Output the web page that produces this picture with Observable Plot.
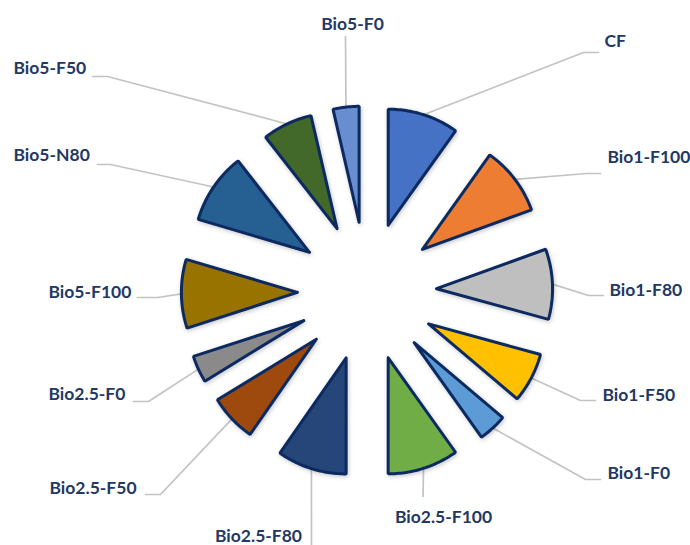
<!DOCTYPE html>
<html>
<head>
<meta charset="utf-8">
<script src="https://cdn.jsdelivr.net/npm/d3@7"></script>
<script src="https://cdn.jsdelivr.net/npm/@observablehq/plot@0.6"></script>
<style>
  html, body { margin: 0; padding: 0; background: #ffffff; }
  #chart svg { display: block; }
</style>
</head>
<body>
<div id="chart"></div>
<script>
// Treatments, in pie order (clockwise from 12 o'clock)
const treatments = ["CF", "Bio1-F100", "Bio1-F80", "Bio1-F50", "Bio1-F0",
  "Bio2.5-F100", "Bio2.5-F80", "Bio2.5-F50", "Bio2.5-F0",
  "Bio5-F100", "Bio5-N80", "Bio5-F50", "Bio5-F0"];

// Share of the whole (%)
const shares = [9.86, 9.61, 9.78, 6.92, 3.97, 9.86, 9.67, 6.58, 3.75, 9.58, 9.86, 6.94, 3.61];

// Slice fills
const fills = ["#4472C4", "#ED7D31", "#BFBFBF", "#FFC000", "#5B9BD5", "#70AD47",
  "#264478", "#9E480E", "#8A8A8A", "#997300", "#255E91", "#43682B", "#698ED0"];

// Label placement (page pixels): text anchor point, text alignment, leader knots
const labelLayout = {
  "CF":          {x: 604, y: 41,  anchor: "start",  knots: [[598, 52], [583, 52]]},
  "Bio1-F100":   {x: 607, y: 157, anchor: "start",  knots: [[600, 173], [586, 173]]},
  "Bio1-F80":    {x: 609, y: 290, anchor: "start",  knots: [[603, 295], [588, 295]]},
  "Bio1-F50":    {x: 602, y: 395, anchor: "start",  knots: [[595, 400], [580, 400]]},
  "Bio1-F0":     {x: 607, y: 473, anchor: "start",  knots: [[600, 479], [585, 479]]},
  "Bio2.5-F100": {x: 443, y: 517, anchor: "middle", knots: [[422.5, 496]]},
  "Bio2.5-F80":  {x: 258, y: 536, anchor: "middle", knots: [[311, 545]]},
  "Bio2.5-F50":  {x: 49,  y: 488, anchor: "start",  knots: [[145, 494], [160, 494]]},
  "Bio2.5-F0":   {x: 48,  y: 394, anchor: "start",  knots: [[133, 401], [148, 401]]},
  "Bio5-F100":   {x: 48,  y: 292, anchor: "start",  knots: [[137, 297], [157, 297]]},
  "Bio5-N80":    {x: 13,  y: 155, anchor: "start",  knots: [[97, 164], [110, 164]]},
  "Bio5-F50":    {x: 13,  y: 68,  anchor: "start",  knots: [[92, 76], [107, 76]]},
  "Bio5-F0":     {x: 352, y: 24,  anchor: "middle", knots: [[345, 36]]}
};

const W = 690, H = 545;
const cx = 366.5, cy = 291;  // pie centre on the page
const R = 116;               // pie radius in pixels (one data unit)
const explode = 0.6;         // slice offset, as a fraction of the radius

const toX = px => (px - cx) / R;
const toY = py => (py - cy) / R;

// Pie angles, clockwise from north
const arcs = d3.pie().sort(null).value(d => d)(shares);

// Slice outlines in pie units (y grows downward)
const slicePts = [];
const leaderPts = [];
const labels = [];
arcs.forEach((a, i) => {
  const name = treatments[i];
  const mid = (a.startAngle + a.endAngle) / 2;
  const ox = explode * Math.sin(mid), oy = -explode * Math.cos(mid);
  const steps = Math.max(2, Math.ceil((a.endAngle - a.startAngle) * 180 / Math.PI));
  slicePts.push({name, x: ox, y: oy});
  for (let k = 0; k <= steps; ++k) {
    const t = a.startAngle + (a.endAngle - a.startAngle) * k / steps;
    slicePts.push({name, x: ox + Math.sin(t), y: oy - Math.cos(t)});
  }
  slicePts.push({name, x: ox, y: oy});

  const L = labelLayout[name];
  L.knots.forEach(([px, py]) => leaderPts.push({name, x: toX(px), y: toY(py)}));
  leaderPts.push({name, x: (1 + explode) * Math.sin(mid), y: -(1 + explode) * Math.cos(mid)});
  labels.push({name, x: toX(L.x), y: toY(L.y), anchor: L.anchor});
});

const chart = Plot.plot({
  width: W,
  height: H,
  margin: 0,
  x: {domain: [toX(0), toX(W)], range: [0, W], axis: null},
  y: {domain: [toY(0), toY(H)], range: [0, H], axis: null},
  color: {domain: treatments, range: fills},
  style: {background: "#ffffff", fontFamily: "Lato, 'Open Sans', sans-serif"},
  marks: [
    Plot.line(leaderPts, {x: "x", y: "y", z: "name", stroke: "#C3C3C3", strokeWidth: 1.7, curve: "linear"}),
    Plot.line(slicePts, {x: "x", y: "y", z: "name", fill: "name", stroke: "#0B2A61",
      strokeWidth: 3, strokeLinejoin: "miter", curve: "linear", className: "slices"}),
    Plot.text(labels.filter(d => d.anchor === "start"), {x: "x", y: "y", text: "name",
      textAnchor: "start", fill: "#1F3864", fontSize: 17.5, fontWeight: 700}),
    Plot.text(labels.filter(d => d.anchor === "middle"), {x: "x", y: "y", text: "name",
      textAnchor: "middle", fill: "#1F3864", fontSize: 17.5, fontWeight: 700})
  ]
});

// Soft shadow under the slices
const ns = "http://www.w3.org/2000/svg";
const defs = document.createElementNS(ns, "defs");
defs.innerHTML = '<filter id="slice-shadow" x="-20%" y="-20%" width="140%" height="140%">' +
  '<feDropShadow dx="1" dy="1.5" stdDeviation="2.2" flood-color="#000" flood-opacity="0.22"/></filter>';
chart.insertBefore(defs, chart.firstChild);
const sliceGroup = chart.querySelector("g.slices");
if (sliceGroup) sliceGroup.setAttribute("filter", "url(#slice-shadow)");

document.getElementById("chart").appendChild(chart);
</script>
</body>
</html>
